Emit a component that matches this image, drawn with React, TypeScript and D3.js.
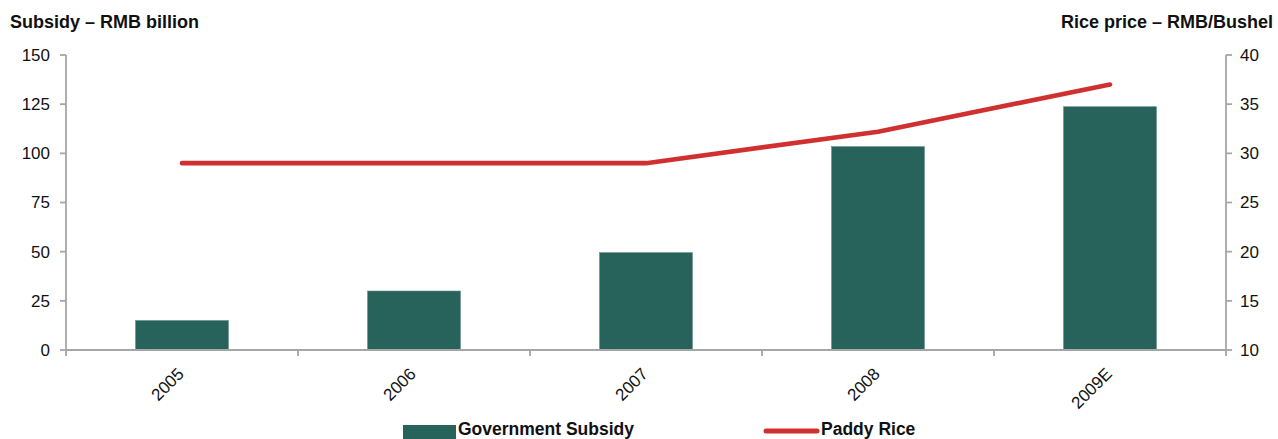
import React from "react";
import * as d3 from "d3";

const categories: string[] = ["2005", "2006", "2007", "2008", "2009E"];
const subsidy: number[] = [15, 30, 49.5, 103.4, 123.7];
const paddyRice: number[] = [29, 29, 29, 32.2, 37];
const leftTicks: number[] = [0, 25, 50, 75, 100, 125, 150];
const rightTicks: number[] = [10, 15, 20, 25, 30, 35, 40];
const leftTitle = "Subsidy – RMB billion";
const rightTitle = "Rice price – RMB/Bushel";
const legendBar = "Government Subsidy";
const legendLine = "Paddy Rice";

const W = 1278;
const H = 439;
const plot = { left: 66, right: 1226, top: 55, bottom: 350 };
const BAR = "#28635B";
const LINE = "#D0302F";
const AXIS = "#A6A6A6";
const FONT = "'Liberation Sans', Arial, sans-serif";

export default function App() {
  const band = d3.scaleBand<string>().domain(categories).range([plot.left, plot.right]);
  const yL = d3.scaleLinear().domain([0, 150]).range([plot.bottom, plot.top]);
  const yR = d3.scaleLinear().domain([10, 40]).range([plot.bottom, plot.top]);
  const line = d3
    .line<number>()
    .x((_, i) => (band(categories[i]) as number) + band.bandwidth() / 2)
    .y((d) => yR(d))
    .curve(d3.curveLinear);

  const boundaries = categories.map((c) => band(c) as number).concat([plot.right]);

  return (
    <svg width={W} height={H} style={{ position: "absolute", left: 0, top: 0, background: "#fff" }} fontFamily={FONT}>
      <text x={10} y={28} fontSize={18} fontWeight="bold" fill="#111">{leftTitle}</text>
      <text x={1273} y={28} fontSize={18} fontWeight="bold" fill="#111" textAnchor="end">{rightTitle}</text>

      {categories.map((c, i) => {
        const bw = band.bandwidth() * 0.4;
        const cx = (band(c) as number) + band.bandwidth() / 2;
        return (
          <rect key={c} x={cx - bw / 2} y={yL(subsidy[i])} width={bw} height={plot.bottom - yL(subsidy[i])} fill={BAR} stroke="#5E8C85" strokeWidth={0.6} />
        );
      })}

      <line x1={plot.left} x2={plot.left} y1={plot.top} y2={plot.bottom} stroke={AXIS} strokeWidth={1.8} />
      {leftTicks.map((t) => (
        <g key={"l" + t}>
          <line x1={plot.left - 6} x2={plot.left} y1={yL(t)} y2={yL(t)} stroke={AXIS} strokeWidth={1.8} />
          <text x={plot.left - 16} y={yL(t)} dy="0.35em" fontSize={17} textAnchor="end" fill="#111">{t}</text>
        </g>
      ))}

      <line x1={plot.right} x2={plot.right} y1={plot.top} y2={plot.bottom} stroke={AXIS} strokeWidth={1.8} />
      {rightTicks.map((t) => (
        <g key={"r" + t}>
          <line x1={plot.right} x2={plot.right + 6} y1={yR(t)} y2={yR(t)} stroke={AXIS} strokeWidth={1.8} />
          <text x={plot.right + 14} y={yR(t)} dy="0.35em" fontSize={17} textAnchor="start" fill="#111">{t}</text>
        </g>
      ))}

      <line x1={plot.left} x2={plot.right} y1={plot.bottom} y2={plot.bottom} stroke={AXIS} strokeWidth={1.8} />
      {boundaries.map((b, i) => (
        <line key={"xt" + i} x1={b} x2={b} y1={plot.bottom} y2={plot.bottom + 6} stroke={AXIS} strokeWidth={1.8} />
      ))}
      {categories.map((c) => {
        const cx = (band(c) as number) + band.bandwidth() / 2;
        return (
          <text key={"xl" + c} transform={`translate(${cx + 3},${plot.bottom + 25}) rotate(-45)`} fontSize={17} textAnchor="end" fill="#111">{c}</text>
        );
      })}

      <path d={line(paddyRice) || ""} fill="none" stroke={LINE} strokeWidth={4.6} strokeLinecap="round" strokeLinejoin="round" />

      <rect x={403} y={425} width={53} height={14} fill={BAR} />
      <text x={458} y={435} fontSize={17.5} fontWeight="bold" fill="#111">{legendBar}</text>
      <line x1={766} x2={817} y1={431} y2={431} stroke={LINE} strokeWidth={5} strokeLinecap="round" />
      <text x={821} y={435} fontSize={17.5} fontWeight="bold" fill="#111">{legendLine}</text>
    </svg>
  );
}
